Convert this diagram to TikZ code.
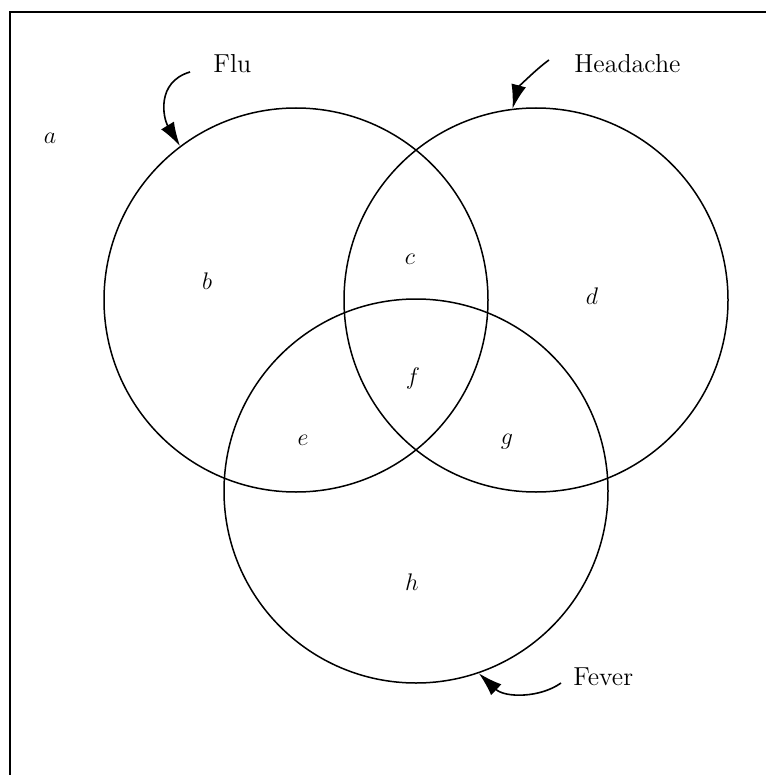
\documentclass[tikz,border=0pt]{standalone}
\usetikzlibrary{arrows.meta}
\begin{document}
\begin{tikzpicture}[x=0.5pt,y=-0.5pt,
  setcircle/.style={draw, circle, minimum size=192pt, inner sep=0pt, line width=0.75pt},
  lbl/.style={font=\fontsize{13}{15}\selectfont, inner sep=0pt},
  pointer/.style={line width=0.8pt, -{Latex[length=12pt,width=7.5pt]}},
  frameline/.style={line width=1pt}]
\useasboundingbox (0,0) rectangle (766,775);
\draw[frameline] (9.5,775) -- (9.5,12.5) -- (766,12.5);
\node[setcircle] (flu) at (296,300) {};
\node[setcircle] (head) at (536,300) {};
\node[setcircle] (fever) at (416,491) {};
\node[lbl] (a) at (50,138) {$a$};
\node[lbl] (b) at (207,281) {$b$};
\node[lbl] (c) at (410,259) {$c$};
\node[lbl] (d) at (592,296) {$d$};
\node[lbl] (e) at (303,440) {$e$};
\node[lbl] (f) at (413,378) {$f$};
\node[lbl] (g) at (507,442) {$g$};
\node[lbl] (h) at (412,582) {$h$};
\node[lbl, anchor=base west] (flut) at (213,73) {Flu};
\node[lbl, anchor=base west] (headt) at (574,73) {Headache};
\node[lbl, anchor=base west] (fevt) at (573,685) {Fever};
\coordinate (flus) at (190,72);
\coordinate (heads) at (549,60);
\coordinate (fevs) at (561,683);
\draw[pointer] (flus) .. controls (156,82) and (163,118) .. (flu.127.5);
\draw[pointer] (heads) .. controls (535,70) and (518,88) .. (head.97);
\draw[pointer] (fevs) .. controls (540,698) and (505,698) .. (fever.-71.3);
\end{tikzpicture}
\end{document}
